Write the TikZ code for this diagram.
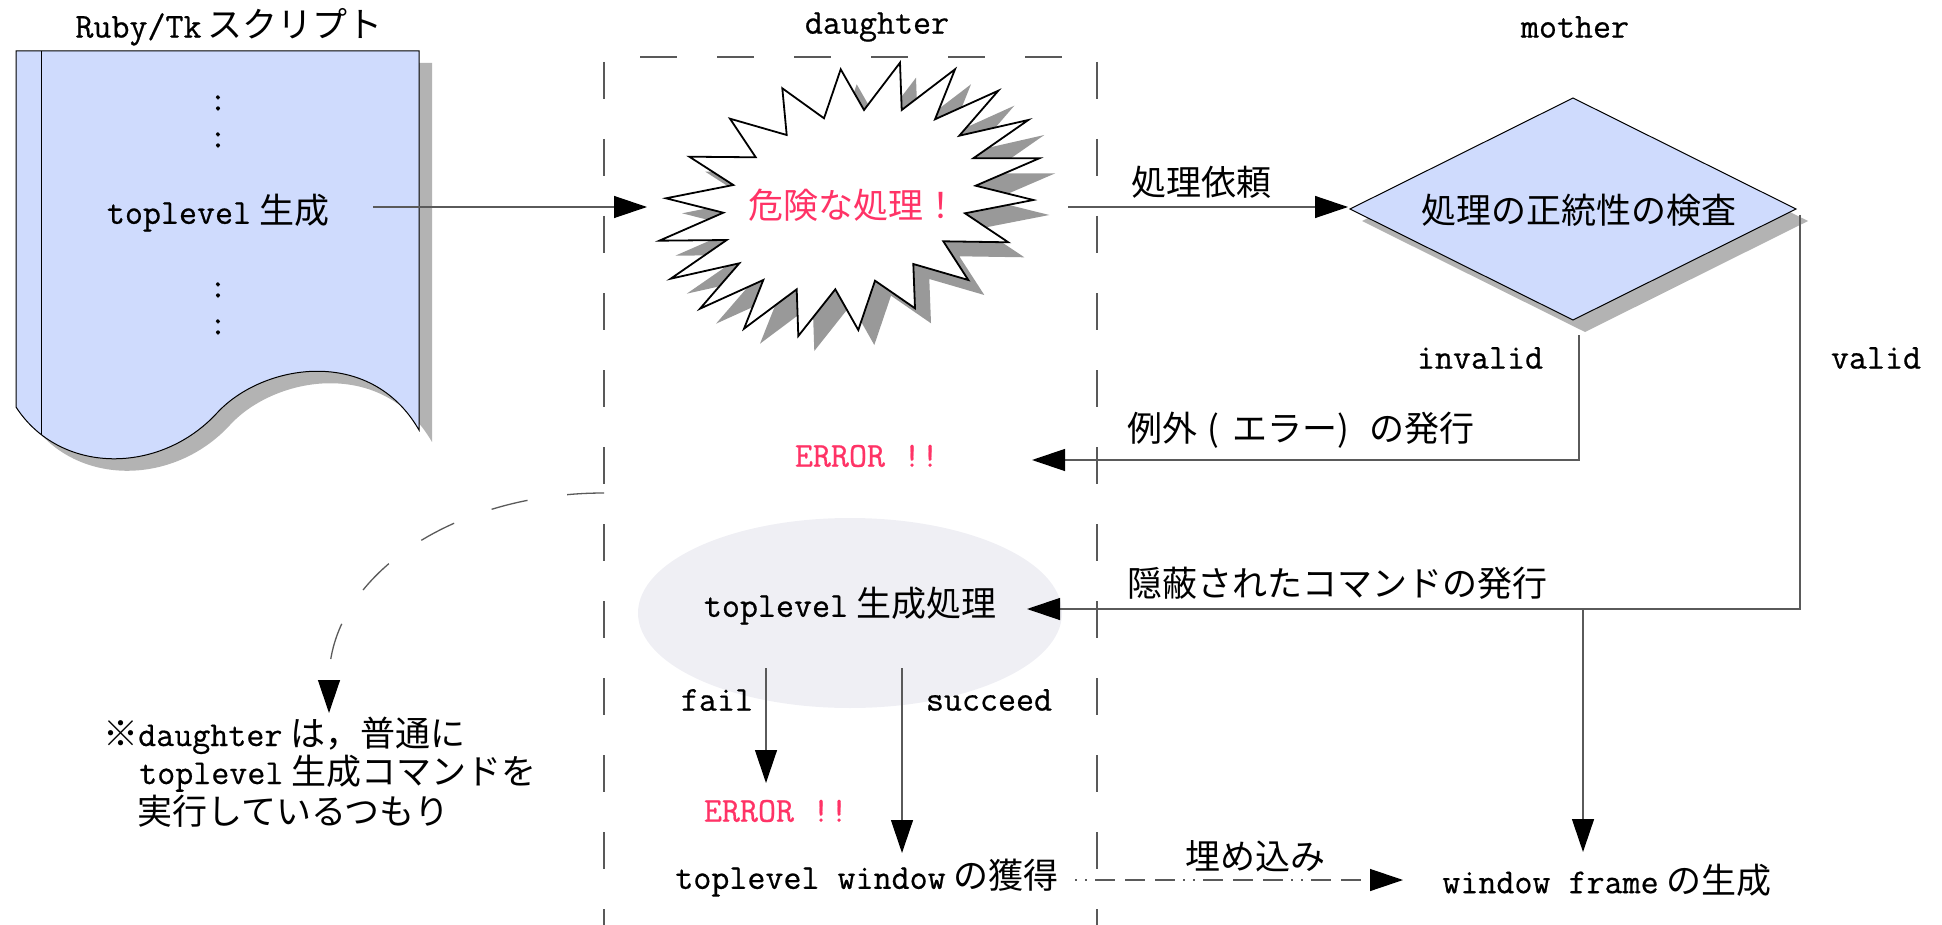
\documentclass[tikz,border=0pt]{standalone}
\usepackage{fontspec}
\newfontfamily\cjk{Noto Sans CJK JP}
\newfontfamily\rbtt{Latin Modern Mono}[FakeBold=0.6]
\usetikzlibrary{arrows.meta,shapes.geometric}
\definecolor{docblue}{RGB}{207,219,253}
\definecolor{errpink}{RGB}{255,51,102}
\definecolor{shadowgray}{RGB}{179,179,179}
\definecolor{burstshadow}{RGB}{153,153,153}
\definecolor{ellfill}{RGB}{239,239,244}
\definecolor{linegray}{RGB}{90,90,90}
\newcommand\JP[1]{{\cjk #1}}
\newcommand\rbDocPath{(16,51) -- (419,51) -- (419,430) .. controls (370,345) and (262,364) .. (217,413) .. controls (160,475) and (60,475) .. (16,407) -- cycle}
\newcommand\rbBurstPath{(840.7,69.3) -- (864,110) -- (900,62.7) -- (901.7,110) -- (955,69.3) -- (935,119.3) -- (998.3,90.7) -- (959.3,135.7) -- (1028.3,120) -- (973.3,158.3) -- (1039.3,158.3) -- (975.7,185.7) -- (1033.3,200) -- (965,213.3) -- (1008.3,242.3) -- (943.3,241.3) -- (968.3,280) -- (913.3,264) -- (915,308.3) -- (875,280.7) -- (858.3,330) -- (835.3,289.3) -- (798.3,336) -- (796.7,289.3) -- (744,328.7) -- (763.3,280) -- (700,308.7) -- (739.3,263.3) -- (670.7,278.7) -- (726.7,240) -- (659.3,240.7) -- (723.3,212.7) -- (666,198.3) -- (733.3,185) -- (689.3,156.7) -- (755.7,157.3) -- (730,118.7) -- (786.7,135) -- (782.3,88.3) -- (824,118.3) -- cycle}
\newcommand\rbDiamondPath{(1573,98) -- (1796,209) -- (1573,320) -- (1350,209) -- cycle}
\tikzset{
  txt/.style={font=\fontsize{35}{38}\selectfont\rbtt, inner sep=0pt},
  errtxt/.style={txt, text=errpink},
  notetxt/.style={txt, anchor=base west, text height=24pt, text depth=5pt},
  tip/.style={-{Triangle[length=33pt,width=22pt,color=black]}},
  conn/.style={draw=linegray, line width=1.3pt, tip},
  lane/.style={draw=black!65, line width=1.3pt, dash pattern=on 37pt off 40pt},
}
\begin{document}
\begin{tikzpicture}[x=1pt,y=-1pt]
\useasboundingbox (0,0) rectangle (1942,925);

% ---- daughter lane (dashed box) ----
\coordinate (laneTL) at (604,57);
\coordinate (laneTR) at (1097,57);
\coordinate (laneBL) at (604,925);
\coordinate (laneBR) at (1097,925);
\draw[lane, dash phase=41pt] (laneTL) -- (laneTR);
\draw[lane, dash phase=72pt] (laneTL) -- (laneBL);
\draw[lane, dash phase=72pt] (laneTR) -- (laneBR);

% ---- headers ----
\node[txt] (hRuby) at (229,27) {Ruby/Tk\hspace{6pt}\JP{スクリプト}};
\node[txt] (hDaughter) at (877,27) {daughter};
\node[txt] (hMother) at (1575,27) {mother};

% ---- Ruby/Tk script document ----
\fill[shadowgray, shift={(13,12)}] \rbDocPath;
\filldraw[fill=docblue, draw=black, line width=1pt] \rbDocPath;
\begin{scope}
  \clip \rbDocPath;
  \draw[black, line width=1pt] (41,51) -- (41,470);
\end{scope}
\node[txt] (dots1) at (218,103) {:};
\node[txt] (dots2) at (218,140) {:};
\node[txt] (docTop) at (218,213) {toplevel\hspace{8pt}\JP{生成}};
\node[txt] (dots3) at (218,290) {:};
\node[txt] (dots4) at (218,327) {:};

% ---- burst ----
\fill[burstshadow, shift={(16,15)}] \rbBurstPath;
\filldraw[fill=white, draw=black, line width=1.8pt, line join=miter] \rbBurstPath;
\node[txt, text=errpink] (burst) at (853,205) {\JP{危険な処理！}};

% ---- diamond ----
\fill[shadowgray, shift={(12,12)}] \rbDiamondPath;
\filldraw[fill=docblue, draw=black, line width=1pt] \rbDiamondPath;
\node[txt] (check) at (1579,210) {\JP{処理の正統性の検査}};

% ---- ellipse ----
\node[ellipse, fill=ellfill, minimum width=424pt, minimum height=190pt, inner sep=0pt] (ell) at (850,613) {};
\node[txt] (ellText) at (850,606) {toplevel\hspace{8pt}\JP{生成処理}};

% ---- other texts ----
\node[txt] (reqLbl) at (1201,182) {\JP{処理依頼}};
\node[txt] (invLbl) at (1480,358) {invalid};
\node[txt] (valLbl) at (1876,358) {valid};
\node[txt, anchor=west] (excLbl) at (1127,430) {\JP{例外}\hspace{10pt}\JP{(}\hspace{13pt}\JP{エラー)}\hspace{21pt}\JP{の発行}};
\node[errtxt] (err1) at (867,456) {ERROR !!};
\node[txt, anchor=west] (hidLbl) at (1127,583) {\JP{隠蔽されたコマンドの発行}};
\node[txt] (failLbl) at (717,700) {fail};
\node[txt] (succLbl) at (989,700) {succeed};
\node[errtxt] (err2) at (776,811) {ERROR !!};
\node[txt] (gotWin) at (867,878) {toplevel window\hspace{8pt}\JP{の獲得}};
\node[txt] (embLbl) at (1255,856) {\JP{埋め込み}};
\node[txt] (frame) at (1607,880) {window frame\hspace{8pt}\JP{の生成}};
\node[notetxt] (note1) at (103,746) {\JP{※}daughter\hspace{8pt}\JP{は，普通に}};
\node[notetxt] (note2) at (139,784) {toplevel\hspace{8pt}\JP{生成コマンドを}};
\node[notetxt] (note3) at (137,824) {\JP{実行しているつもり}};

% ---- connector end points ----
\coordinate (docOut) at (373,207);
\coordinate (burstIn) at (647,207);
\coordinate (burstOut) at (1068,207);
\coordinate (checkIn) at (1348,207);
\coordinate (invStart) at (1579,335);
\coordinate (errIn) at (1032,460);
\coordinate (valStart) at (1800,215);
\coordinate (ellIn) at (1027,609);
\coordinate (branch) at (1583,609);
\coordinate (frameIn) at (1583,852);
\coordinate (failStart) at (766,668);
\coordinate (err2In) at (766,783);
\coordinate (succStart) at (902,668);
\coordinate (winIn) at (902,853);
\coordinate (embStart) at (1075,880);
\coordinate (embEnd) at (1403,880);
\coordinate (noteStart) at (604,493);
\coordinate (noteIn) at (329,713);

% ---- connectors ----
\draw[conn] (docOut) -- (burstIn);
\draw[conn] (burstOut) -- (checkIn);
\draw[conn] (invStart) |- (errIn);
\draw[conn] (valStart) |- (ellIn);
\draw[conn] (branch) -- (frameIn);
\draw[conn] (failStart) -- (err2In);
\draw[conn] (succStart) -- (winIn);
\draw[conn, dash pattern=on 2pt off 8pt on 2pt off 8pt on 20pt off 10pt on 20pt off 10pt on 20pt off 8pt] (embStart) -- (embEnd);
\draw[conn, dash pattern=on 37pt off 40pt] (noteStart) .. controls (452,493) and (329,577) .. (noteIn);
\end{tikzpicture}
\end{document}
